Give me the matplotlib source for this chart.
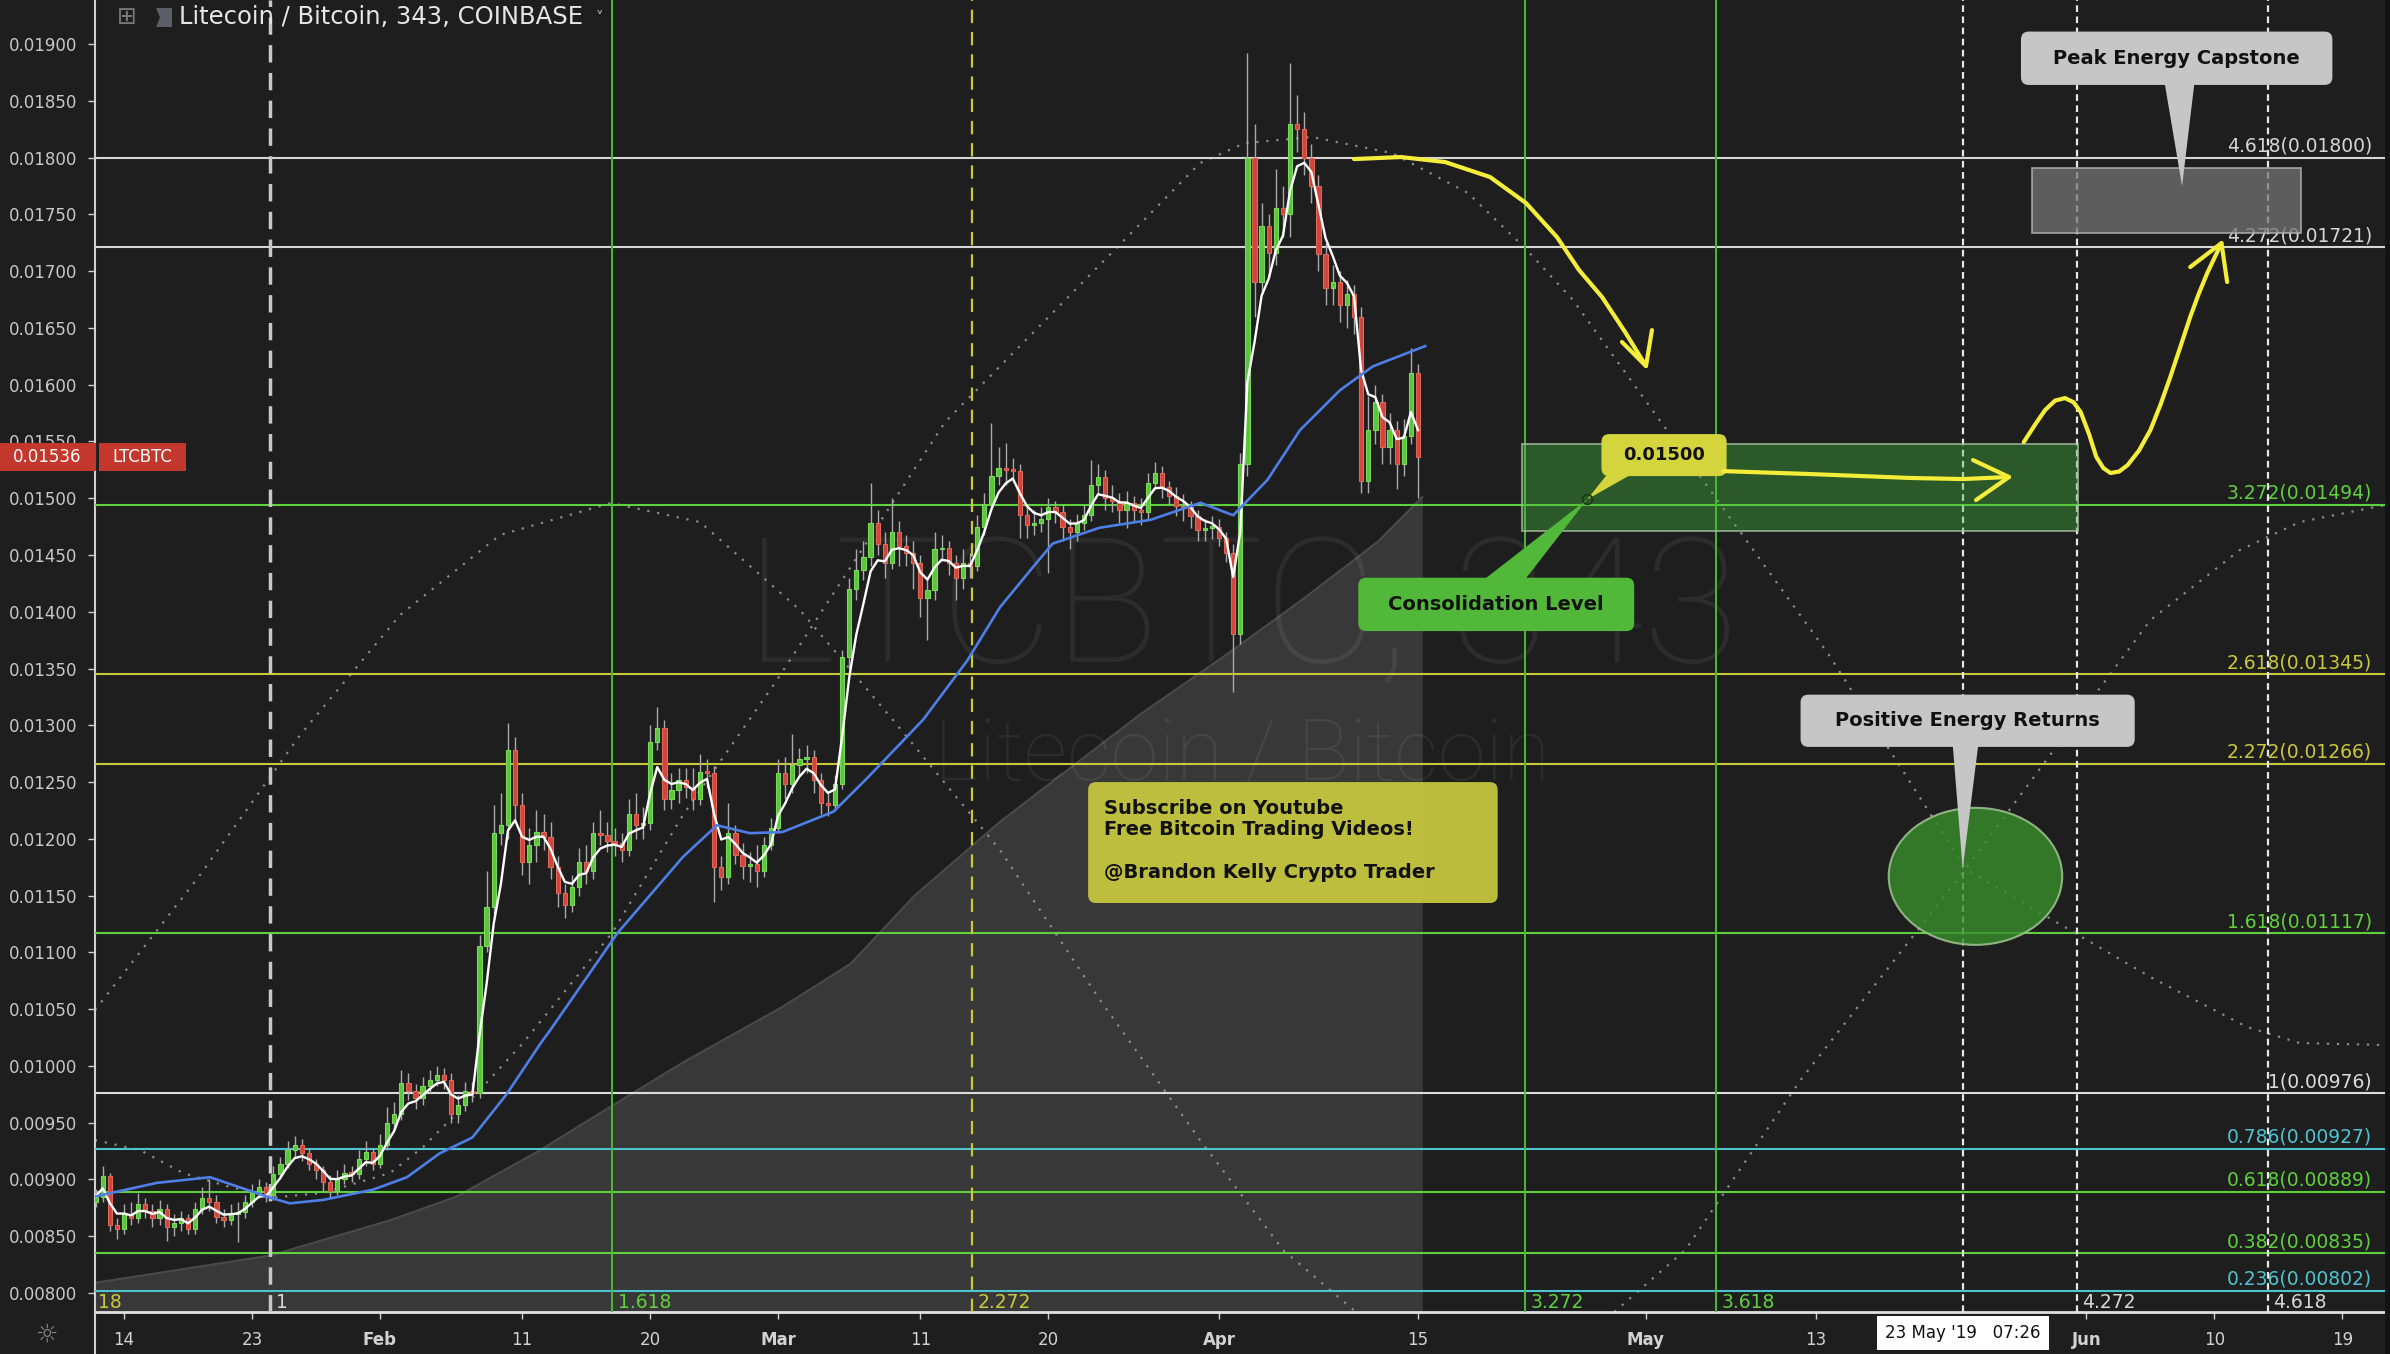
import numpy as np
import pandas as pd
import matplotlib
matplotlib.use("Agg")
import matplotlib.pyplot as plt
from matplotlib.patches import Rectangle, FancyBboxPatch, Polygon, Ellipse
from matplotlib.lines import Line2D
from matplotlib.ticker import MultipleLocator, FormatStrFormatter
from matplotlib.transforms import blended_transform_factory

plt.rcParams['font.family'] = ['DejaVu Sans']

# ----------------------------------------------------------------------------
# data - x is days since 14 Jan 2019
# ----------------------------------------------------------------------------
BASE = pd.Timestamp("2019-01-14")

# half-day LTC/BTC bars from 12 Jan 2019
first_open = 0.00880
closes = [
    0.00885, 0.00903, 0.00860, 0.00856, 0.00870, 0.00866, 0.00878, 0.00872, 0.00866, 0.00874,
    0.00858, 0.00862, 0.00866, 0.00856, 0.00874, 0.00884, 0.00880, 0.00867, 0.00864, 0.00870,
    0.00871, 0.00880, 0.00888, 0.00893, 0.00886, 0.00905, 0.00914, 0.00926, 0.00930, 0.00923,
    0.00914, 0.00908, 0.00898, 0.00890, 0.00900, 0.00906, 0.00905, 0.00918, 0.00924, 0.00914,
    0.00930, 0.00950, 0.00958, 0.00985, 0.00978, 0.00972, 0.00982, 0.00988, 0.00992, 0.00988,
    0.00958, 0.00966, 0.00978, 0.00976, 0.01106, 0.01140, 0.01205, 0.01212, 0.01278, 0.01230,
    0.01180, 0.01195, 0.01206, 0.01202, 0.01175, 0.01152, 0.01142, 0.01158, 0.01180, 0.01172,
    0.01205, 0.01203, 0.01198, 0.01196, 0.01190, 0.01222, 0.01212, 0.01214, 0.01285, 0.01298,
    0.01235, 0.01243, 0.01252, 0.01246, 0.01235, 0.01259, 0.01258, 0.01175, 0.01166, 0.01205,
    0.01186, 0.01176, 0.01178, 0.01172, 0.01195, 0.01210, 0.01258, 0.01248, 0.01265, 0.01270,
    0.01272, 0.01252, 0.01232, 0.01230, 0.01248, 0.01360, 0.01420, 0.01437, 0.01448, 0.01478,
    0.01460, 0.01443, 0.01470, 0.01458, 0.01452, 0.01443, 0.01412, 0.01419, 0.01455, 0.01456,
    0.01443, 0.01430, 0.01443, 0.01440, 0.01475, 0.01495, 0.01520, 0.01527, 0.01525, 0.01524,
    0.01485, 0.01476, 0.01478, 0.01482, 0.01492, 0.01488, 0.01475, 0.01470, 0.01478, 0.01485,
    0.01512, 0.01519, 0.01500, 0.01498, 0.01490, 0.01496, 0.01490, 0.01488, 0.01513, 0.01522,
    0.01510, 0.01502, 0.01493, 0.01492, 0.01484, 0.01472, 0.01474, 0.01475, 0.01465, 0.01452,
    0.01380, 0.01530, 0.01800, 0.01690, 0.01740, 0.01716, 0.01756, 0.01750, 0.01830, 0.01825,
    0.01800, 0.01775, 0.01715, 0.01685, 0.01690, 0.01670, 0.01680, 0.01660, 0.01515, 0.01560,
    0.01585, 0.01545, 0.01560, 0.01530, 0.01555, 0.01610, 0.01536]
highs = [
    0.00892, 0.00912, 0.00906, 0.00866, 0.00878, 0.00880, 0.00888, 0.00884, 0.00878, 0.00882,
    0.00878, 0.00870, 0.00872, 0.00870, 0.00880, 0.00893, 0.00900, 0.00886, 0.00874, 0.00878,
    0.00880, 0.00886, 0.00896, 0.00900, 0.00898, 0.00912, 0.00920, 0.00934, 0.00938, 0.00936,
    0.00928, 0.00918, 0.00912, 0.00904, 0.00908, 0.00914, 0.00912, 0.00926, 0.00934, 0.00928,
    0.00940, 0.00964, 0.00968, 0.00996, 0.00994, 0.00984, 0.00990, 0.00996, 0.01000, 0.00998,
    0.00994, 0.00974, 0.00986, 0.00986, 0.01115, 0.01172, 0.01230, 0.01240, 0.01302, 0.01290,
    0.01240, 0.01210, 0.01225, 0.01222, 0.01215, 0.01185, 0.01160, 0.01168, 0.01192, 0.01195,
    0.01215, 0.01225, 0.01215, 0.01210, 0.01205, 0.01235, 0.01240, 0.01228, 0.01300, 0.01316,
    0.01305, 0.01258, 0.01262, 0.01262, 0.01262, 0.01275, 0.01270, 0.01264, 0.01185, 0.01232,
    0.01212, 0.01196, 0.01188, 0.01195, 0.01202, 0.01218, 0.01270, 0.01272, 0.01292, 0.01280,
    0.01283, 0.01278, 0.01258, 0.01242, 0.01256, 0.01366, 0.01430, 0.01455, 0.01462, 0.01513,
    0.01490, 0.01470, 0.01500, 0.01480, 0.01468, 0.01462, 0.01450, 0.01430, 0.01470, 0.01468,
    0.01462, 0.01450, 0.01455, 0.01452, 0.01485, 0.01505, 0.01566, 0.01545, 0.01549, 0.01535,
    0.01530, 0.01495, 0.01490, 0.01492, 0.01500, 0.01498, 0.01494, 0.01482, 0.01486, 0.01494,
    0.01534, 0.01530, 0.01525, 0.01512, 0.01505, 0.01506, 0.01502, 0.01500, 0.01522, 0.01532,
    0.01528, 0.01515, 0.01510, 0.01504, 0.01498, 0.01490, 0.01482, 0.01484, 0.01482, 0.01470,
    0.01460, 0.01540, 0.01892, 0.01830, 0.01760, 0.01750, 0.01790, 0.01775, 0.01883, 0.01855,
    0.01840, 0.01812, 0.01785, 0.01725, 0.01705, 0.01700, 0.01692, 0.01688, 0.01668, 0.01590,
    0.01600, 0.01592, 0.01575, 0.01568, 0.01570, 0.01632, 0.01618]
lows = [
    0.00876, 0.00880, 0.00855, 0.00848, 0.00852, 0.00860, 0.00862, 0.00866, 0.00858, 0.00860,
    0.00846, 0.00850, 0.00855, 0.00852, 0.00852, 0.00870, 0.00872, 0.00862, 0.00858, 0.00860,
    0.00845, 0.00866, 0.00876, 0.00884, 0.00880, 0.00882, 0.00900, 0.00910, 0.00920, 0.00916,
    0.00908, 0.00900, 0.00890, 0.00884, 0.00886, 0.00896, 0.00898, 0.00900, 0.00912, 0.00908,
    0.00910, 0.00926, 0.00944, 0.00952, 0.00970, 0.00962, 0.00966, 0.00976, 0.00982, 0.00980,
    0.00950, 0.00950, 0.00960, 0.00968, 0.00972, 0.01100, 0.01130, 0.01195, 0.01200, 0.01215,
    0.01168, 0.01160, 0.01180, 0.01190, 0.01165, 0.01140, 0.01130, 0.01136, 0.01150, 0.01160,
    0.01165, 0.01195, 0.01188, 0.01185, 0.01180, 0.01185, 0.01200, 0.01200, 0.01208, 0.01278,
    0.01225, 0.01226, 0.01232, 0.01236, 0.01225, 0.01230, 0.01245, 0.01144, 0.01155, 0.01160,
    0.01178, 0.01165, 0.01162, 0.01158, 0.01166, 0.01190, 0.01205, 0.01235, 0.01240, 0.01255,
    0.01258, 0.01240, 0.01222, 0.01220, 0.01226, 0.01244, 0.01350, 0.01410, 0.01428, 0.01440,
    0.01450, 0.01430, 0.01438, 0.01440, 0.01440, 0.01420, 0.01395, 0.01375, 0.01410, 0.01445,
    0.01432, 0.01410, 0.01420, 0.01430, 0.01436, 0.01468, 0.01490, 0.01512, 0.01512, 0.01515,
    0.01465, 0.01465, 0.01468, 0.01470, 0.01434, 0.01478, 0.01462, 0.01455, 0.01462, 0.01472,
    0.01480, 0.01505, 0.01490, 0.01488, 0.01478, 0.01474, 0.01480, 0.01476, 0.01482, 0.01508,
    0.01500, 0.01494, 0.01484, 0.01480, 0.01474, 0.01462, 0.01462, 0.01464, 0.01458, 0.01444,
    0.01329, 0.01372, 0.01520, 0.01660, 0.01680, 0.01695, 0.01705, 0.01730, 0.01730, 0.01805,
    0.01785, 0.01760, 0.01700, 0.01670, 0.01670, 0.01655, 0.01650, 0.01645, 0.01505, 0.01505,
    0.01548, 0.01530, 0.01530, 0.01508, 0.01520, 0.01548, 0.01500]

# slow moving average (blue)
blue_days = [-2.04, 2.3, 6.05, 10.27, 11.67, 14.0, 17.5, 19.9, 22.2, 24.5,
             26.9, 29.3, 30.0, 34.7, 39.3, 41.7, 44.0, 46.3, 49.9, 52.3,
             54.6, 56.2, 59.3, 61.6, 63.9, 65.3, 68.6, 72.2, 75.7, 78.0,
             80.4, 82.7, 85.5, 87.8, 91.5]
blue_vals = [0.00885, 0.00897, 0.00902, 0.00884, 0.00879, 0.00882, 0.00891, 0.00902, 0.00923, 0.00937,
             0.00975, 0.01020, 0.01032, 0.01117, 0.01184, 0.01212, 0.01205, 0.01206, 0.01224, 0.01254,
             0.01284, 0.01305, 0.01357, 0.01404, 0.01439, 0.01460, 0.01474, 0.01481, 0.01496, 0.01485,
             0.01516, 0.01560, 0.01595, 0.01616, 0.01634]

# grey cumulative area
area_days = [-2.04, 10.27, 18.7, 23.4, 29.3, 31.6, 39.3, 46.3, 51.1, 55.6, 61.6, 66.5, 71.5,
             77.5, 83.0, 88.2, 91.3]
area_vals = [0.00809, 0.00833, 0.00864, 0.00885, 0.00926, 0.00944, 0.01003, 0.01052, 0.01090,
             0.01150, 0.01215, 0.01262, 0.01310, 0.01362, 0.01412, 0.01462, 0.01501]

# fibonacci extension levels
fib_levels = [4.618, 4.272, 3.272, 2.618, 2.272, 1.618, 1, 0.786, 0.618, 0.382, 0.236]
fib_prices = [0.01800, 0.01721, 0.01494, 0.01345, 0.01266, 0.01117, 0.00976, 0.00927, 0.00889, 0.00835, 0.00802]
fib_colors = ['#d6d6d6', '#d6d6d6', '#5fd13c', '#c9c83b', '#c9c83b', '#5fd13c',
              '#dcdcdc', '#4fc3cf', '#5fd13c', '#5fd13c', '#4fc3cf']

# fibonacci time zones
time_labels = ['1', '1.618', '2.272', '3.272', '3.618', '4.272', '4.618']
time_days = [10.27, 34.32, 59.63, 98.51, 111.95, 137.31, 150.77]
time_kinds = ['wdash', 'green', 'ydash', 'green', 'green', 'wfine', 'wfine']
crosshair_day = 129.33

# dotted cycle curves
waveA_days = [-2.04, 1.13, 4.15, 7.45, 10.76, 13.99, 18.71, 21.03, 24.82, 28.06, 34.32, 39.31, 45.92,
              57.74, 75.67, 78.83, 83.54, 89.17, 94.51, 98.45, 101.9, 109.1, 119.9, 129.5, 142.5,
              149.3, 153.0, 159.0]
waveA_vals = [0.009347, 0.009259, 0.009057, 0.008934, 0.008845, 0.008881, 0.009057, 0.009286, 0.009761,
              0.010202, 0.011171, 0.012210, 0.013399, 0.015671, 0.017952, 0.018128, 0.018181, 0.018040,
              0.017688, 0.017212, 0.016745, 0.015495, 0.013619, 0.011734, 0.010783, 0.010343, 0.010202,
              0.010184]
waveB_days = [-2.04, 5.34, 12.38, 19.41, 26.44, 34.25, 40.51, 47.54, 54.08, 61.6, 68.64, 75.67, 81.51, 86.64]
waveB_vals = [0.010492, 0.011681, 0.012914, 0.013971, 0.014676, 0.014958, 0.014790, 0.014015, 0.013046,
              0.011902, 0.010580, 0.009347, 0.008379, 0.007833]
waveC_days = [104.8, 109.8, 117.9, 129.5, 142.5, 148.8, 153.0, 159.0]
waveC_vals = [0.007833, 0.008379, 0.009876, 0.011734, 0.013927, 0.014544, 0.014790, 0.014940]

# hand drawn yellow arrows
arrow1_days = [86.5, 89.8, 92.9, 96.06, 98.59, 100.77, 102.32, 103.94, 105.56, 107.03]
arrow1_vals = [0.017987, 0.018005, 0.017961, 0.017829, 0.017600, 0.017300, 0.017010, 0.016772, 0.016464, 0.016164]
arrow2_days = [112.45, 118.57, 125.74, 129.33, 132.56]
arrow2_vals = [0.015239, 0.015213, 0.015178, 0.015169, 0.015187]
arrow3_days = [133.6, 134.4, 135.1, 135.8, 136.5, 137.1, 137.6, 138.2, 138.7, 139.2, 139.7, 140.3,
               140.9, 141.7, 142.5, 143.2, 143.9, 144.6, 145.3, 145.9, 146.5, 147.5]
arrow3_vals = [0.015495, 0.015650, 0.015777, 0.015860, 0.015882, 0.015845, 0.015759, 0.015560,
               0.015363, 0.015265, 0.015222, 0.015235, 0.015292, 0.015420, 0.015600, 0.015820,
               0.016067, 0.016330, 0.016596, 0.016800, 0.016983, 0.017247]

tick_dates = ['2019-01-14', '2019-01-23', '2019-02-01', '2019-02-11', '2019-02-20', '2019-03-01',
              '2019-03-11', '2019-03-20', '2019-04-01', '2019-04-15', '2019-05-01', '2019-05-13',
              '2019-06-01', '2019-06-10', '2019-06-19']
tick_labels = ['14', '23', 'Feb', '11', '20', 'Mar', '11', '20', 'Apr', '15', 'May', '13', 'Jun', '10', '19']

last_price = 0.01536

# ----------------------------------------------------------------------------
BG = '#1e1e1e'
W, H = 2390, 1354
XMIN, XMAX = -2.04, 159.0
YMIN, YMAX = 0.007833, 0.019388
AX_L, AX_B, AX_W, AX_H = 95, 42, 2290, 1312
ASPECT = ((YMAX - YMIN) / AX_H) / ((XMAX - XMIN) / AX_W)

fig = plt.figure(figsize=(W / 100, H / 100), dpi=100, facecolor=BG)
ax = fig.add_axes([AX_L / W, AX_B / H, AX_W / W, AX_H / H])
ax.set_facecolor(BG)
ax.set_xlim(XMIN, XMAX)
ax.set_ylim(YMIN, YMAX)

# watermark
ax.text(0.501, 0.532, 'LTCBTC, 343', transform=ax.transAxes, ha='center', va='center',
        fontsize=126, family='Roboto', weight='light', color='white', alpha=0.065, zorder=1.5)
ax.text(0.501, 0.423, 'Litecoin / Bitcoin', transform=ax.transAxes, ha='center', va='center',
        fontsize=62, family='Roboto', weight='light', color='white', alpha=0.065, zorder=1.5)

# grey area
ax.fill_between(area_days, area_vals, YMIN - 0.001, color='#383838', lw=0, zorder=1)
ax.plot(area_days, area_vals, color='#4a4a4a', lw=1.5, zorder=1.2)

# fib levels
ylab = ax.get_yaxis_transform()
for lvl, p, c in zip(fib_levels, fib_prices, fib_colors):
    ax.axhline(p, color=c, lw=1.5, zorder=3)
    ax.annotate(f'{lvl:g}({p:.5f})', xy=(0.9943, p), xycoords=ylab, xytext=(0, 1.5),
                textcoords='offset points', ha='right', va='bottom', fontsize=13.5, color=c, zorder=3)

# fib time zones
xlab = ax.get_xaxis_transform()
kind_style = {
    'wdash': dict(color='#c8c8c8', lw=2.5, ls=(0, (5, 3))),
    'ydash': dict(color='#c9c83b', lw=1.6, ls=(0, (6, 4))),
    'green': dict(color='#4cb83a', lw=1.4, ls='-'),
    'wfine': dict(color='#e6e6e6', lw=1.6, ls=(0, (3, 2))),
}
kind_text = {'wdash': '#d6d6d6', 'ydash': '#c9c83b', 'green': '#5fd13c', 'wfine': '#d6d6d6'}
for lbl, d, k in zip(time_labels, time_days, time_kinds):
    ax.axvline(d, zorder=3, **kind_style[k])
    ax.annotate(lbl, xy=(d, 0), xycoords=xlab, xytext=(4, 3), textcoords='offset points',
                ha='left', va='baseline', fontsize=13.5, color=kind_text[k], zorder=3)
ax.annotate('18', xy=(XMIN, 0), xycoords=xlab, xytext=(2, 3), textcoords='offset points',
            ha='left', va='baseline', fontsize=13.5, color='#c9c83b')
ax.axvline(crosshair_day, zorder=3, **kind_style['wfine'])

# dotted cycles
for xs, ys in [(waveA_days, waveA_vals), (waveB_days, waveB_vals), (waveC_days, waveC_vals)]:
    ax.plot(xs, ys, color='#8c8c8c', lw=1.6, ls=(0, (1, 3.5)), zorder=2.5)

# candles
days = (pd.date_range('2019-01-12', periods=len(closes), freq='12h') - BASE) / pd.Timedelta(days=1)
c = np.array(closes)
o = np.r_[first_open, c[:-1]]
up = c >= o
body_lo = np.minimum(o, c)
body_h = np.maximum(np.abs(c - o), 0.000015)
ax.vlines(days, lows, highs, color='#a9a9a9', lw=1.0, zorder=4)
ax.bar(days, body_h, bottom=body_lo, width=0.3,
       color=np.where(up, '#5cc43e', '#d0463c'), edgecolor=np.where(up, '#78da55', '#e06656'),
       linewidth=0.8, zorder=5)

# moving averages
fast = pd.Series(c).ewm(span=4, adjust=False).mean()
ax.plot(days, fast, color='white', lw=1.7, zorder=6)
ax.plot(blue_days, blue_vals, color='#4d7fe6', lw=1.9, zorder=6)

# zones
ax.add_patch(Rectangle((98.3, 0.01471), 39.1, 0.00077, fc=(0.27, 0.73, 0.23, 0.38),
                       ec=(0.65, 0.75, 0.62, 0.8), lw=1.3, zorder=7))
ax.add_patch(Rectangle((134.2, 0.01734), 18.9, 0.00057, fc=(0.45, 0.45, 0.45, 0.75),
                       ec=(0.7, 0.7, 0.7, 0.8), lw=1.3, zorder=7))
ax.add_patch(Ellipse((130.2, 0.01167), 12.2, 0.001207, fc=(0.22, 0.56, 0.17, 0.8),
                     ec=(0.6, 0.75, 0.55, 0.9), lw=1.5, zorder=7))


def callout(x0, x1, y0, y1, color, text, ptr=None, alpha=1.0, fs=14):
    ax.add_patch(FancyBboxPatch((x0, y0), x1 - x0, y1 - y0, boxstyle='round,pad=0,rounding_size=0.55',
                                mutation_aspect=ASPECT, fc=color, ec='none', alpha=alpha, zorder=8))
    if ptr is not None:
        ax.add_patch(Polygon(ptr, closed=True, fc=color, ec='none', alpha=alpha, zorder=8))
    if text:
        ax.text((x0 + x1) / 2, (y0 + y1) / 2, text, ha='center', va='center', fontsize=fs,
                weight='bold', color='#111111', zorder=9)


callout(133.4, 155.3, 0.01864, 0.01911, '#c6c6c6', 'Peak Energy Capstone',
        ptr=[(143.5, 0.01866), (145.6, 0.01866), (144.73, 0.017749)])
callout(117.9, 141.4, 0.01281, 0.01327, '#c6c6c6', 'Positive Energy Returns',
        ptr=[(128.6, 0.01283), (130.4, 0.01283), (129.3, 0.011734)])
callout(103.9, 112.7, 0.015195, 0.015565, '#d4d43c', '0.01500',
        ptr=[(104.3, 0.01521), (106.0, 0.01521), (102.9, 0.01499)], fs=13)
callout(86.8, 106.2, 0.01383, 0.01430, '#52b83a', 'Consolidation Level',
        ptr=[(95.6, 0.01428), (98.5, 0.01428), (102.9, 0.01499)])
ax.plot([102.9], [0.01499], marker='o', ms=7, mfc='none', mec='#1a3a10', mew=1.2, zorder=9)
callout(67.8, 96.6, 0.011435, 0.01250, '#c9c93f', None, alpha=0.93)
ax.text(68.9, 0.012355, 'Subscribe on Youtube\nFree Bitcoin Trading Videos!\n\n@Brandon Kelly Crypto Trader',
        ha='left', va='top', fontsize=14, weight='bold', color='#111111', linespacing=1.17, zorder=9)

# yellow arrows
YEL = '#f4ee3a'
akw = dict(color=YEL, lw=3.0, solid_capstyle='round', solid_joinstyle='round', zorder=10)
ax.plot(arrow1_days, arrow1_vals, **akw)
ax.plot([105.34, arrow1_days[-1], 107.45], [0.016376, arrow1_vals[-1], 0.016481], **akw)
ax.plot(arrow2_days, arrow2_vals, **akw)
ax.plot([130.03, arrow2_days[-1], 130.24], [0.015336, arrow2_vals[-1], 0.014984], **akw)
ax.plot(arrow3_days, arrow3_vals, **akw)
ax.plot([145.3, arrow3_days[-1], 147.9], [0.017036, arrow3_vals[-1], 0.016904], **akw)

# axes styling
for s in ['top', 'right']:
    ax.spines[s].set_visible(False)
ax.spines['left'].set_color('#d0d0d0')
ax.spines['left'].set_linewidth(1.5)
ax.spines['bottom'].set_color('#e0e0e0')
ax.spines['bottom'].set_linewidth(2)
ax.yaxis.set_major_locator(MultipleLocator(0.0005))
ax.yaxis.set_major_formatter(FormatStrFormatter('%.5f'))
ax.tick_params(axis='y', length=5, width=1, color='#cfcfcf', pad=8, labelsize=12, labelcolor='#c8c8c8')
tick_days = [(pd.Timestamp(t) - BASE) / pd.Timedelta(days=1) for t in tick_dates]
ax.set_xticks(tick_days)
ax.set_xticklabels(tick_labels)
for t in ax.get_xticklabels():
    if t.get_text().isalpha():
        t.set_fontweight('bold')
ax.tick_params(axis='x', length=5, width=1, color='#cfcfcf', pad=9, labelsize=12, labelcolor='#d2d2d2')

# last price tags
tr = blended_transform_factory(fig.transFigure, ax.transData)
hh = 28 * (YMAX - YMIN) / AX_H
ax.add_patch(Rectangle((0, last_price - hh / 2), 96 / W, hh, transform=tr, fc='#c4372c', ec='none',
                       zorder=20, clip_on=False))
ax.text(81 / W, last_price, f'{last_price:.5f}', transform=tr, ha='right', va='center', fontsize=12,
        color='white', zorder=21, clip_on=False)
ax.add_patch(Rectangle((99 / W, last_price - hh / 2), 87 / W, hh, transform=tr, fc='#c4372c', ec='none',
                       zorder=20, clip_on=False))
ax.text(142 / W, last_price, 'LTCBTC', transform=tr, ha='center', va='center', fontsize=12,
        color='white', zorder=21, clip_on=False)

# crosshair date tag
ax.annotate("23 May '19   07:26", xy=(crosshair_day, 0), xycoords=xlab, xytext=(0, -15),
            textcoords='offset points', ha='center', va='center', fontsize=12, color='#111111',
            bbox=dict(boxstyle='square,pad=0.5', fc='white', ec='none'), annotation_clip=False, zorder=20)

# header / chrome
fig.text(179 / W, 1 - 17 / H, 'Litecoin / Bitcoin, 343, COINBASE', fontsize=17.5, color='#e6e6e6',
         ha='left', va='center')
fig.text(596 / W, 1 - 19 / H, '˅', fontsize=11, color='#bbbbbb', ha='left', va='center')
fig.text(127 / W, 1 - 17 / H, '⊞', fontsize=17, color='#7a7a7a', ha='center', va='center')
fig.patches.append(Polygon([(156 / W, 1 - 8 / H), (172 / W, 1 - 8 / H), (172 / W, 1 - 27 / H),
                            (156 / W, 1 - 27 / H), (160 / W, 1 - 17.5 / H)], closed=True,
                           transform=fig.transFigure, fc='#5a5e66', ec='none'))
fig.text(47 / W, 19 / H, '☼', fontsize=18, color='#8a8a8a', ha='center', va='center')
fig.lines.append(Line2D([AX_L / W, AX_L / W], [0, AX_B / H], transform=fig.transFigure,
                        color='#d0d0d0', lw=1.5))
fig.patches.append(Rectangle((2385 / W, 0), 5 / W, 1, transform=fig.transFigure, fc='#131313', ec='none'))

fig.savefig('out.png', dpi=100, facecolor=BG)
